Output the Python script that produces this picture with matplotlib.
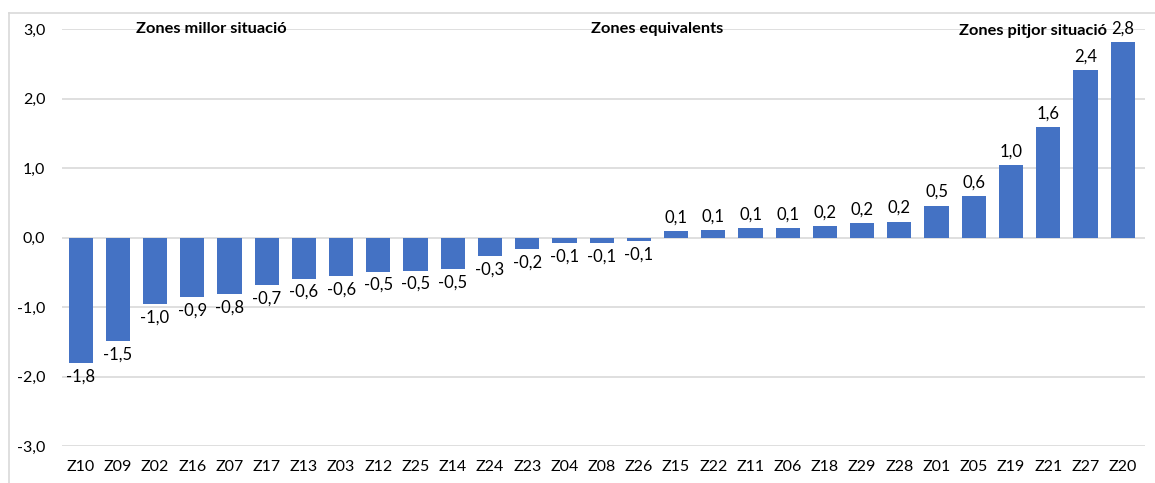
import matplotlib
matplotlib.use("Agg")
import matplotlib.pyplot as plt
from matplotlib.lines import Line2D

plt.rcParams['font.family'] = ['Lato', 'DejaVu Sans']

zones = ["Z10", "Z09", "Z02", "Z16", "Z07", "Z17", "Z13", "Z03", "Z12", "Z25",
         "Z14", "Z24", "Z23", "Z04", "Z08", "Z26", "Z15", "Z22", "Z11", "Z06",
         "Z18", "Z29", "Z28", "Z01", "Z05", "Z19", "Z21", "Z27", "Z20"]
values = [-1.81, -1.49, -0.96, -0.86, -0.82, -0.68, -0.59, -0.55, -0.49, -0.475,
          -0.45, -0.26, -0.16, -0.08, -0.08, -0.055, 0.09, 0.11, 0.13, 0.13,
          0.17, 0.21, 0.23, 0.46, 0.59, 1.04, 1.59, 2.41, 2.81]
yticks = [-3, -2, -1, 0, 1, 2, 3]
groups = [("Zones millor situació", 3.5, 3.0), ("Zones equivalents", 15.5, 3.0),
          ("Zones pitjor situació", 25.6, 2.97)]

BLUE = "#4472C4"
GRID = "#D9D9D9"

fig = plt.figure(figsize=(11.55, 4.83), dpi=100)
ax = fig.add_axes([62/1155, 37/483, (1145-62)/1155, (446-29)/483])

x = range(len(zones))
ax.bar(x, values, width=0.65, color=BLUE, zorder=3)

def fmt(v):
    return ("%.1f" % v).replace(".", ",")

for i, v in enumerate(values):
    if v >= 0:
        ax.annotate(fmt(v), (i, v), xytext=(0, 4), textcoords="offset points",
                    ha="center", va="bottom", fontsize=12)
    else:
        ax.annotate(fmt(v), (i, v), xytext=(0, -4), textcoords="offset points",
                    ha="center", va="top", fontsize=12)

for label, xpos, ypos in groups:
    ax.text(xpos, ypos, label, ha="center", va="center", fontsize=11.8,
            fontweight="bold", zorder=4)

ax.set_xlim(-0.5, len(zones) - 0.5 + 0.1)
ax.set_ylim(-3, 3)
ax.set_yticks(yticks)
ax.set_yticklabels([fmt(t) for t in yticks], fontsize=11.5)
ax.set_xticks(list(x))
ax.set_xticklabels(zones, fontsize=11.5)
ax.tick_params(length=0, pad=12)
ax.tick_params(axis="x", pad=10)
ax.grid(axis="y", color=GRID, linewidth=1.2, zorder=0)
for s in ax.spines.values():
    s.set_visible(False)

# outer chart border
fig.add_artist(Line2D([9/1155, 9/1155], [0, 1 - 13/483], color=GRID, linewidth=1.2))
fig.add_artist(Line2D([9/1155, 1], [1 - 13/483, 1 - 13/483], color=GRID, linewidth=1.2))

fig.savefig("out.png", dpi=100)
